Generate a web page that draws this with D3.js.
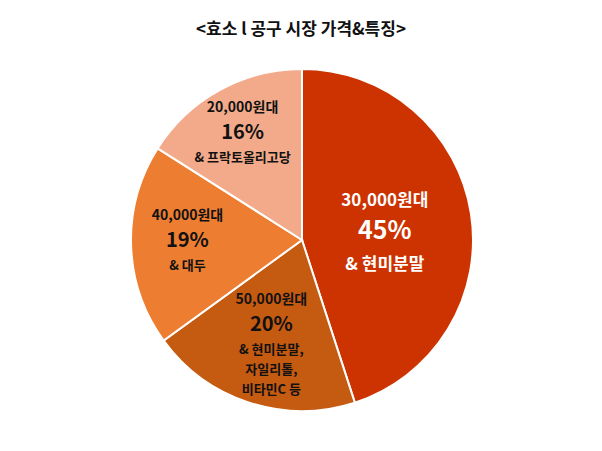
<!DOCTYPE html>
<meta charset='utf-8'>
<html>
<head>
<script src="https://d3js.org/d3.v7.min.js"></script>
<style>body{margin:0;background:#fff;font-family:"Noto Sans CJK KR",sans-serif;}</style>
</head>
<body>
<script>
var labels = ['30,000원대', '50,000원대', '40,000원대', '20,000원대']
var values = [45, 20, 19, 16]
var notes = [['& 현미분말'], ['& 현미분말,', '자일리톨,', '비타민C 등'], ['& 대두'], ['& 프락토올리고당']]
var colors = ['#CC3300', '#C55A11', '#ED7D31', '#F2AA8A']
var textColors = ['#fff', '#111', '#111', '#111']

var svg = d3.select('body').append('svg').attr('width', 602).attr('height', 451)
svg.append('text').attr('x', 301).attr('y', 35).attr('text-anchor', 'middle')
  .style('font-size', '17px').style('font-weight', 'bold').style('fill', '#111')
  .text('<효소 l 공구 시장 가격&특징>')

var cx = 302, cy = 240, r = 171
var pie = d3.pie().sort(null).value(function (d) { return d })
var arc = d3.arc().innerRadius(0).outerRadius(r)
var g = svg.append('g').attr('transform', 'translate(' + cx + ',' + cy + ')')
var arcs = pie(values)
g.selectAll('path').data(arcs).enter().append('path')
  .attr('d', arc).attr('fill', function (d, i) { return colors[i] })
  .attr('stroke', '#fff').attr('stroke-width', 2)

// label anchor positions and small nudges
var lr = [0.52, 0.58, 0.6, 0.6]
var nudge = [[-5, 10], [0, 18], [-12, 15], [-10, 0]]
arcs.forEach(function (d, i) {
  var c = d3.arc().innerRadius(0).outerRadius(r * lr[i] * 2).centroid(d)
  var x = c[0] + nudge[i][0]
  var big = i == 0
  var t = g.append('text').attr('text-anchor', 'middle').style('fill', textColors[i]).style('font-weight', 'bold')
  var y0 = c[1] - (big ? 30 : 38) + (i == 1 ? -10 : 0) + nudge[i][1]
  t.append('tspan').attr('x', x).attr('y', y0).style('font-size', big ? '17px' : '14px').text(labels[i])
  t.append('tspan').attr('x', x).attr('y', y0 + (big ? 33 : 27)).style('font-size', big ? '25px' : '20px').text(values[i] + '%')
  notes[i].forEach(function (n, k) {
    t.append('tspan').attr('x', x).attr('y', y0 + (big ? 64 : 50) + k * 20)
      .style('font-size', big ? '17px' : '13px').text(n)
  })
})
</script>
</body>
</html>
